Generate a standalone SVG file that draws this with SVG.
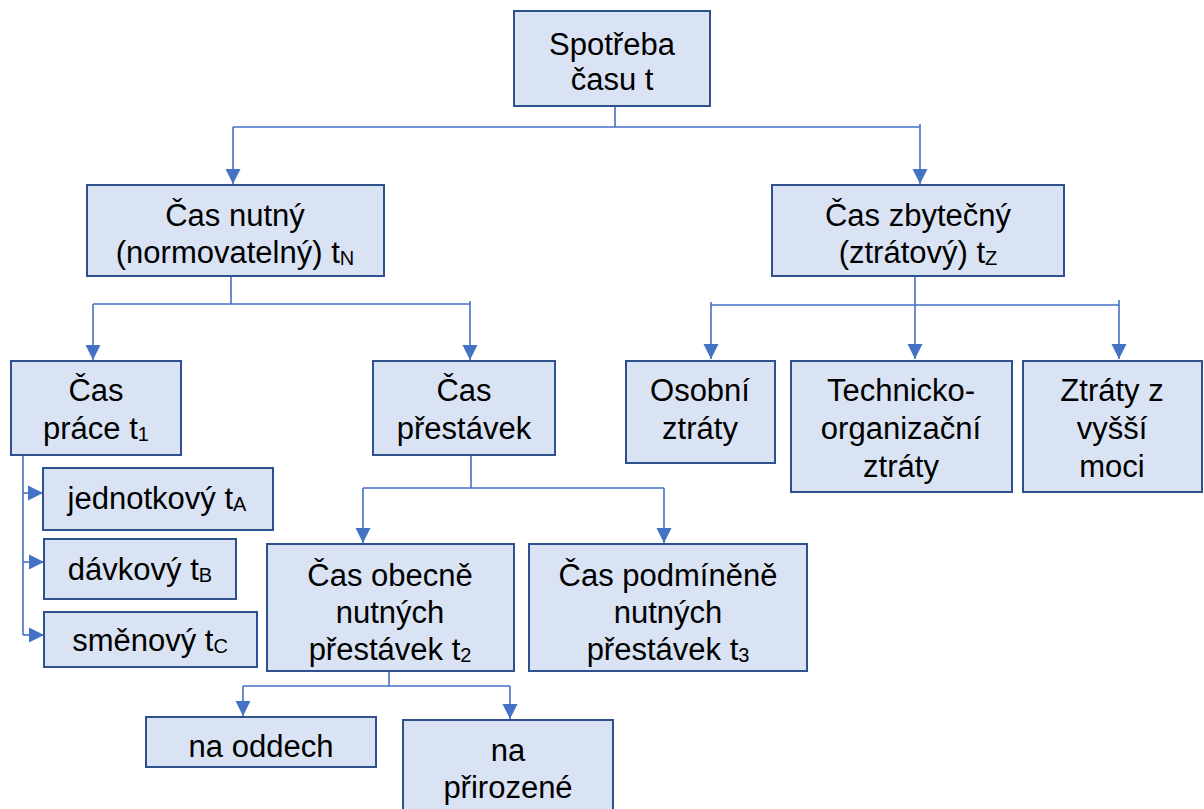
<svg xmlns="http://www.w3.org/2000/svg" width="1204" height="809" viewBox="0 0 1204 809">
  <style>
    .box { fill: #DAE3F3; stroke: #2F528F; stroke-width: 2; }
    .lbl { font-family: "Liberation Sans", Arial, sans-serif; font-size: 31px; fill: #000; text-anchor: middle; }
    .sub { font-size: 20px; }
    .wire { fill: none; stroke: #4472C4; stroke-width: 1.6; }
    .arr { fill: none; stroke: #4472C4; stroke-width: 1.6; marker-end: url(#head); }
  </style>
  <defs>
    <marker id="head" viewBox="0 0 10 10" refX="10" refY="5" markerWidth="15" markerHeight="16" markerUnits="userSpaceOnUse" orient="auto">
      <path d="M0,0 L10,5 L0,10 z" fill="#4472C4"/>
    </marker>
  </defs>
  <rect width="1204" height="809" fill="#fff"/>

  <!-- connectors -->
  <g id="connectors">
    <!-- root split -->
    <path class="wire" d="M615,106 V127 M233,127 H920 M920,124 V127"/>
    <path class="arr" d="M233,127 V184"/>
    <path class="arr" d="M920,127 V184"/>
    <!-- necessary time split -->
    <path class="wire" d="M231,276 V304 M93,304 H470"/>
    <path class="arr" d="M93,304 V360"/>
    <path class="arr" d="M470,301 V360"/>
    <!-- wasted time split -->
    <path class="wire" d="M915,276 V305 M711,305 H1119"/>
    <path class="arr" d="M711,302 V359"/>
    <path class="arr" d="M915,305 V359"/>
    <path class="arr" d="M1119,300 V359"/>
    <!-- work time list -->
    <path class="wire" d="M23,449 V635"/>
    <path class="arr" d="M23,493 H43"/>
    <path class="arr" d="M23,562 H44"/>
    <path class="arr" d="M23,635 H44"/>
    <!-- breaks split -->
    <path class="wire" d="M471,450 V488 M363,488 H664"/>
    <path class="arr" d="M363,488 V543"/>
    <path class="arr" d="M664,488 V543"/>
    <!-- general breaks split -->
    <path class="wire" d="M389,668 V686 M243,686 H510"/>
    <path class="arr" d="M243,686 V716"/>
    <path class="arr" d="M510,686 V719"/>
  </g>

  <g id="n-spotreba">
    <rect class="box" x="514" y="11" width="196" height="95"/>
    <text class="lbl" x="612" y="55">Spotřeba</text>
    <text class="lbl" x="612" y="90">času t</text>
  </g>

  <g id="n-nutny">
    <rect class="box" x="87" y="185" width="297" height="91"/>
    <text class="lbl" x="235" y="226">Čas nutný</text>
    <text class="lbl" x="235" y="263">(normovatelný) t<tspan class="sub" dy="2">N</tspan></text>
  </g>

  <g id="n-zbytecny">
    <rect class="box" x="772" y="185" width="292" height="91"/>
    <text class="lbl" x="918" y="226">Čas zbytečný</text>
    <text class="lbl" x="918" y="263">(ztrátový) t<tspan class="sub" dy="2">Z</tspan></text>
  </g>

  <g id="n-prace">
    <rect class="box" x="11" y="361" width="170" height="94"/>
    <text class="lbl" x="96" y="401">Čas</text>
    <text class="lbl" x="96" y="439">práce t<tspan class="sub" dy="2">1</tspan></text>
  </g>

  <g id="n-prestavky">
    <rect class="box" x="373" y="361" width="182" height="94"/>
    <text class="lbl" x="464" y="401">Čas</text>
    <text class="lbl" x="464" y="439">přestávek</text>
  </g>

  <g id="n-osobni">
    <rect class="box" x="626" y="361" width="149" height="102"/>
    <text class="lbl" x="700" y="401">Osobní</text>
    <text class="lbl" x="700" y="439">ztráty</text>
  </g>

  <g id="n-technicko">
    <rect class="box" x="791" y="361" width="221" height="131"/>
    <text class="lbl" x="901" y="401">Technicko-</text>
    <text class="lbl" x="901" y="439">organizační</text>
    <text class="lbl" x="901" y="477">ztráty</text>
  </g>

  <g id="n-vyssi-moc">
    <rect class="box" x="1023" y="361" width="179" height="131"/>
    <text class="lbl" x="1112" y="401">Ztráty z</text>
    <text class="lbl" x="1112" y="439">vyšší</text>
    <text class="lbl" x="1112" y="477">moci</text>
  </g>

  <g id="n-jednotkovy">
    <rect class="box" x="43" y="468" width="230" height="62"/>
    <text class="lbl" x="157" y="509">jednotkový t<tspan class="sub" dy="2">A</tspan></text>
  </g>

  <g id="n-davkovy">
    <rect class="box" x="44" y="539" width="192" height="60"/>
    <text class="lbl" x="140" y="580">dávkový t<tspan class="sub" dy="2">B</tspan></text>
  </g>

  <g id="n-smenovy">
    <rect class="box" x="44" y="612" width="213" height="55"/>
    <text class="lbl" x="150" y="651">směnový t<tspan class="sub" dy="2">C</tspan></text>
  </g>

  <g id="n-obecne">
    <rect class="box" x="267" y="544" width="247" height="127"/>
    <text class="lbl" x="390" y="586">Čas obecně</text>
    <text class="lbl" x="390" y="623">nutných</text>
    <text class="lbl" x="390" y="660">přestávek t<tspan class="sub" dy="2">2</tspan></text>
  </g>

  <g id="n-podminene">
    <rect class="box" x="529" y="544" width="278" height="127"/>
    <text class="lbl" x="668" y="586">Čas podmíněně</text>
    <text class="lbl" x="668" y="623">nutných</text>
    <text class="lbl" x="668" y="660">přestávek t<tspan class="sub" dy="2">3</tspan></text>
  </g>

  <g id="n-oddech">
    <rect class="box" x="146" y="717" width="230" height="50"/>
    <text class="lbl" x="261" y="757">na oddech</text>
  </g>

  <g id="n-prirozene">
    <rect class="box" x="403" y="720" width="210" height="100"/>
    <text class="lbl" x="508" y="761">na</text>
    <text class="lbl" x="508" y="798">přirozené</text>
  </g>
</svg>
